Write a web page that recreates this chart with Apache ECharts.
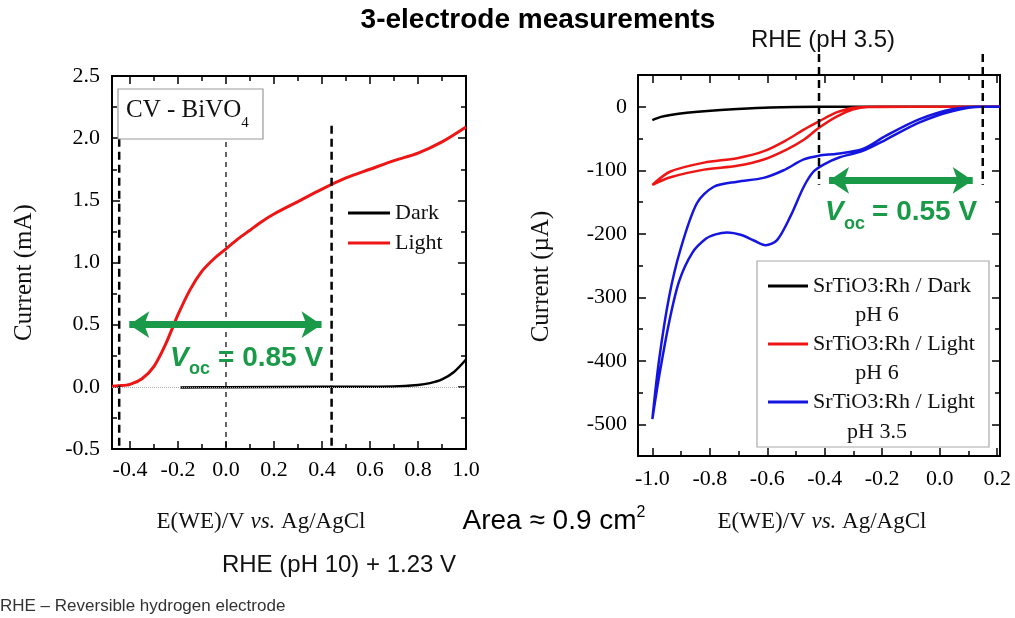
<!DOCTYPE html>
<html>
<head>
<meta charset="utf-8">
<title>3-electrode measurements</title>
<script src="https://cdn.jsdelivr.net/npm/echarts@6/dist/echarts.min.js"></script>
<style>
  html, body { margin: 0; padding: 0; background: #fff; }
  #chart { width: 1015px; height: 618px; }
</style>
</head>
<body>
<div id="chart"></div>
<script>
// left panel: BiVO4 CV, E vs Ag/AgCl (V) / current (mA)
const bivoDark = [[-0.19, -0.005], [0.0, -0.003], [0.4, 0.0], [0.7, 0.003], [0.8, 0.015],
  [0.85, 0.03], [0.9, 0.06], [0.95, 0.12], [1.0, 0.22]];
const bivoLight = [[-0.475, 0.005], [-0.45, 0.008], [-0.40, 0.02], [-0.35, 0.065], [-0.30, 0.165],
  [-0.25, 0.35], [-0.20, 0.58], [-0.15, 0.78], [-0.10, 0.93], [-0.05, 1.03], [0.0, 1.11],
  [0.05, 1.19], [0.10, 1.26], [0.15, 1.33], [0.20, 1.39], [0.30, 1.49], [0.40, 1.59],
  [0.50, 1.68], [0.60, 1.75], [0.70, 1.82], [0.80, 1.88], [0.90, 1.97], [1.0, 2.09]];
const bivoVoc = [-0.445, 0.44];       // dashed guides
const bivoGuideTop = [2.1, 1.97, 2.1];
const bivoArrow = [-0.403, 0.398];    // arrow ends, at 0.5 mA
const bivoArrowY = 0.5;

// right panel: SrTiO3:Rh CV, current (uA)
const strDark6 = [[-1.0, -21], [-0.97, -16], [-0.937, -13], [-0.88, -9.5], [-0.82, -7],
  [-0.705, -3.5], [-0.59, -1], [-0.42, 0], [-0.2, 0], [0.21, 0]];
const strLight6 = [[0.21, 0], [-0.1, 0], [-0.25, -0.5], [-0.3, -4], [-0.357, -15], [-0.42, -33],
  [-0.473, -52], [-0.531, -67], [-0.612, -83], [-0.705, -93], [-0.82, -99], [-0.937, -111],
  [-1.0, -123], [-0.937, -102], [-0.82, -88], [-0.705, -81], [-0.612, -70], [-0.531, -52],
  [-0.473, -36], [-0.42, -23], [-0.357, -8.5], [-0.29, -1], [-0.2, 0], [0.21, 0]];
const strLight35 = [[0.21, 0], [0.148, 0], [0.043, -7], [-0.072, -25], [-0.188, -52], [-0.27, -70],
  [-0.35, -80], [-0.404, -91], [-0.439, -102], [-0.473, -126], [-0.52, -173], [-0.566, -210],
  [-0.606, -218], [-0.645, -211], [-0.69, -202], [-0.74, -198], [-0.78, -201], [-0.814, -208],
  [-0.861, -230], [-0.907, -275], [-0.942, -340], [-0.977, -426], [-1.0, -492], [-0.977, -400],
  [-0.942, -300], [-0.903, -226], [-0.845, -152], [-0.786, -126], [-0.705, -118], [-0.613, -112],
  [-0.543, -100], [-0.473, -83], [-0.42, -77], [-0.357, -74], [-0.27, -67], [-0.188, -46],
  [-0.072, -20], [0.043, -4], [0.148, 0], [0.21, 0]];
const strVoc = [-0.42, 0.15];
const strGuideRange = [83, -123];
const strArrow = [-0.385, 0.115];
const strArrowY = -116;

const strNames = ['Dark pH 6', 'Light pH 6', 'Light pH 3.5'];
const strLabels = ['SrTiO3:Rh / Dark', 'SrTiO3:Rh / Light', 'SrTiO3:Rh / Light'];
const strPh = ['pH 6', 'pH 6', 'pH 3.5'];

const SERIF = '"Liberation Serif", "Times New Roman", serif';
const SANS = '"Liberation Sans", Arial, sans-serif';
const GREEN = '#1a9a48';
const RED = '#ee1515';
const BLUE = '#1515e0';

const chart = echarts.init(document.getElementById('chart'));

function frame(grid, min, max, step, fmt) {
  return {
    gridIndex: grid, type: 'value', min: min, max: max,
    minInterval: step, maxInterval: step, splitNumber: Math.round((max - min) / step),
    axisLine: { onZero: false, lineStyle: { color: '#000', width: 2 } },
    axisTick: { inside: true, length: 8, lineStyle: { color: '#000', width: 1.5 } },
    minorTick: { show: true, splitNumber: 2, length: 5, lineStyle: { color: '#000', width: 1.5 } },
    splitLine: { show: false },
    minorSplitLine: { show: false },
    axisLabel: { show: false, formatter: fmt }
  };
}

function labelled(ax, pos, opts) {
  return Object.assign({}, ax, {
    position: pos,
    axisLabel: Object.assign({
      show: true, formatter: ax.axisLabel.formatter, color: '#000',
      fontFamily: SERIF, fontSize: 22
    }, opts)
  });
}

const fix1 = v => v.toFixed(1);
const int0 = v => String(Math.round(v));

const lx = frame(0, -0.475, 1.0, 0.2, fix1);
const ly = frame(0, -0.5, 2.5, 0.5, fix1);
const rx = frame(1, -1.05, 0.21, 0.2, fix1);
const ry = frame(1, -550, 50, 100, int0);

// axis indexes: 0/1 = left panel (bottom/left, top/right), 2/3 = right panel
const LEFT = 0;
const RIGHT = 2;

const xName = 'E(WE)/V {i|vs.} Ag/AgCl';
const xNameStyle = {
  color: '#111', fontFamily: SERIF, fontSize: 23,
  rich: { i: { fontStyle: 'italic', fontFamily: SERIF, fontSize: 23, color: '#111' } }
};

function curve(name, data, color, ai, width) {
  return {
    name: name, type: 'line', xAxisIndex: ai, yAxisIndex: ai, data: data,
    symbol: 'none', showSymbol: false, smooth: 0.3,
    lineStyle: { color: color, width: width || 2.5 }, itemStyle: { color: color },
    z: 3
  };
}

function guide(x, top, bottom, ai, width, dash) {
  return {
    type: 'line', xAxisIndex: ai, yAxisIndex: ai, data: [[x, top], [x, bottom]],
    symbol: 'none', clip: false, silent: true, z: 4,
    lineStyle: { color: '#000', width: width, type: dash }
  };
}

function arrow(ends, y, ai) {
  return {
    type: 'line', xAxisIndex: ai, yAxisIndex: ai, data: [], silent: true, z: 5,
    markLine: {
      silent: true, symbol: ['arrow', 'arrow'], symbolSize: 20,
      label: { show: false },
      lineStyle: { color: GREEN, width: 7, type: 'solid' },
      data: [[{ coord: [ends[0], y] }, { coord: [ends[1], y] }]]
    }
  };
}

const series = [
  Object.assign(curve('Dark', bivoDark, '#000', LEFT), {
    markLine: {
      silent: true, symbol: 'none', label: { show: false },
      lineStyle: { color: '#aaa', width: 1, type: 'dotted' },
      data: [{ yAxis: 0 }]
    }
  }),
  curve('Light', bivoLight, RED, LEFT, 3),
  guide(bivoVoc[0], bivoGuideTop[0], -0.5, LEFT, 2.5, [8, 5]),
  guide(0, bivoGuideTop[1], -0.5, LEFT, 1.2, [5, 5]),
  guide(bivoVoc[1], bivoGuideTop[2], -0.5, LEFT, 2.5, [8, 5]),
  arrow(bivoArrow, bivoArrowY, LEFT),
  curve(strNames[0], strDark6, '#000', RIGHT),
  curve(strNames[1], strLight6, RED, RIGHT),
  curve(strNames[2], strLight35, BLUE, RIGHT),
  guide(strVoc[0], strGuideRange[0], strGuideRange[1], RIGHT, 2.5, [8, 5]),
  guide(strVoc[1], strGuideRange[0], strGuideRange[1], RIGHT, 2.5, [8, 5]),
  arrow(strArrow, strArrowY, RIGHT)
];

const graphic = [
  { type: 'text', x: 538, y: 20, style: { text: '3-electrode measurements', font: 'bold 28px ' + SANS, fill: '#000', align: 'center', verticalAlign: 'middle' } },
  { type: 'text', x: 823, y: 40, style: { text: 'RHE (pH 3.5)', font: '24px ' + SANS, fill: '#111', align: 'center', verticalAlign: 'middle' } },
  { type: 'text', x: 554, y: 521, style: { text: 'Area \u2248 0.9 cm{s|2}', font: '28px ' + SANS, fill: '#000', align: 'center', verticalAlign: 'middle',
      rich: { s: { fontSize: 16, fontFamily: SANS, verticalAlign: 'top', lineHeight: 32, fill: '#000' } } } },
  { type: 'text', x: 339, y: 565, style: { text: 'RHE (pH 10) + 1.23 V', font: '24px ' + SANS, fill: '#111', align: 'center', verticalAlign: 'middle' } },
  { type: 'text', x: 0, y: 606, style: { text: 'RHE \u2013 Reversible hydrogen electrode', font: '17px ' + SANS, fill: '#333', align: 'left', verticalAlign: 'middle' } },
  { type: 'rect', shape: { x: 118, y: 89, width: 145, height: 50 }, style: { fill: '#fff', stroke: '#999', lineWidth: 1.2 }, z: 10 },
  { type: 'text', x: 126, y: 114, z: 11, style: { text: '{a|CV - BiVO}{b|4}', fill: '#111', align: 'left', verticalAlign: 'middle',
      rich: { a: { fontFamily: SERIF, fontSize: 25, lineHeight: 23, verticalAlign: 'top', fill: '#111' },
              b: { fontFamily: SERIF, fontSize: 15, lineHeight: 33, verticalAlign: 'bottom', fill: '#111' } } } },
  { type: 'rect', shape: { x: 757, y: 261, width: 232, height: 186 }, style: { fill: '#fff', stroke: '#aaa', lineWidth: 1.2 }, z: 10 },
  { type: 'text', x: 877, y: 315, z: 11, style: { text: strPh[0], font: '22px ' + SERIF, fill: '#111', align: 'center', verticalAlign: 'middle' } },
  { type: 'text', x: 877, y: 373, z: 11, style: { text: strPh[1], font: '22px ' + SERIF, fill: '#111', align: 'center', verticalAlign: 'middle' } },
  { type: 'text', x: 877, y: 432, z: 11, style: { text: strPh[2], font: '22px ' + SERIF, fill: '#111', align: 'center', verticalAlign: 'middle' } },
  // Voc labels
  { type: 'text', x: 170, y: 358, z: 11, style: { text: 'V', font: 'italic bold 28px ' + SANS, fill: GREEN, verticalAlign: 'middle' } },
  { type: 'text', x: 189, y: 369, z: 11, style: { text: 'oc', font: 'bold 18px ' + SANS, fill: GREEN, verticalAlign: 'middle' } },
  { type: 'text', x: 218, y: 358, z: 11, style: { text: '= 0.85 V', font: 'bold 28px ' + SANS, fill: GREEN, verticalAlign: 'middle' } },
  { type: 'text', x: 825, y: 212, z: 11, style: { text: 'V', font: 'italic bold 28px ' + SANS, fill: GREEN, verticalAlign: 'middle' } },
  { type: 'text', x: 844, y: 224, z: 11, style: { text: 'oc', font: 'bold 18px ' + SANS, fill: GREEN, verticalAlign: 'middle' } },
  { type: 'text', x: 872, y: 212, z: 11, style: { text: '= 0.55 V', font: 'bold 28px ' + SANS, fill: GREEN, verticalAlign: 'middle' } }
];

chart.setOption({
  animation: false,
  backgroundColor: '#fff',
  grid: [
    { left: 112, top: 76, width: 354, height: 373, outerBoundsMode: 'none' },
    { left: 638, top: 75, width: 362, height: 381, outerBoundsMode: 'none' }
  ],
  xAxis: [
    Object.assign(labelled(lx, 'bottom', { margin: 10, showMinLabel: false }), {
      name: xName, nameLocation: 'middle', nameGap: 61,
      nameTextStyle: Object.assign({ padding: [0, 56, 0, 0] }, xNameStyle)
    }),
    Object.assign({}, lx, { position: 'top' }),
    Object.assign(labelled(rx, 'bottom', { margin: 12, showMinLabel: false, showMaxLabel: false }), {
      name: xName, nameLocation: 'middle', nameGap: 54,
      nameTextStyle: Object.assign({ padding: [0, 0, 0, 6] }, xNameStyle)
    }),
    Object.assign({}, rx, { position: 'top' })
  ],
  yAxis: [
    Object.assign(labelled(ly, 'left', { margin: 12 }), {
      name: 'Current (mA)', nameLocation: 'middle', nameGap: 75,
      nameTextStyle: { color: '#111', fontFamily: SERIF, fontSize: 25, padding: [0, 20, 0, 0] }
    }),
    Object.assign({}, ly, { position: 'right' }),
    Object.assign(labelled(ry, 'left', { margin: 11, showMinLabel: false, showMaxLabel: false }), {
      name: 'Current (\u00b5A)', nameLocation: 'middle', nameGap: 84,
      nameTextStyle: { color: '#111', fontFamily: SERIF, fontSize: 25, padding: [0, 22, 0, 0] }
    }),
    Object.assign({}, ry, { position: 'right' })
  ],
  legend: [
    {
      data: ['Dark', 'Light'], orient: 'vertical', left: 348, top: 202, padding: 0,
      icon: 'rect', itemWidth: 42, itemHeight: 3, itemGap: 8, selectedMode: false,
      textStyle: { fontFamily: SERIF, fontSize: 22, color: '#111' }
    },
    {
      data: strNames, orient: 'vertical', left: 768, top: 275, padding: 0, z: 12,
      icon: 'rect', itemWidth: 40, itemHeight: 3, itemGap: 36, selectedMode: false,
      formatter: name => strLabels[strNames.indexOf(name)],
      textStyle: { fontFamily: SERIF, fontSize: 22, color: '#111' }
    }
  ],
  series: series,
  graphic: graphic
});
</script>
</body>
</html>
